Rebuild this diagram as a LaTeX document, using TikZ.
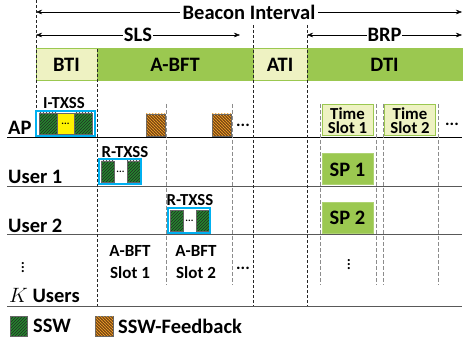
\documentclass[tikz,border=0pt]{standalone}
\usepackage{fontspec}
\setmainfont{Carlito}
\usetikzlibrary{arrows.meta,patterns}
\definecolor{paleyellow}{RGB}{238,242,194}
\definecolor{leafgreen}{RGB}{155,200,80}
\definecolor{skyblue}{RGB}{0,176,240}
\definecolor{sswgreen}{RGB}{35,135,45}
\definecolor{fbkorange}{RGB}{240,160,40}
\definecolor{fbkbrown}{RGB}{120,70,20}
\definecolor{brightyellow}{RGB}{255,242,0}
\tikzset{
  bigtxt/.style={font=\fontsize{20.5}{22}\selectfont\bfseries},
  midtxt/.style={font=\fontsize{17}{22}\selectfont\bfseries},
  smalltxt/.style={font=\fontsize{16.8}{14.5}\selectfont\bfseries},
  dotstxt/.style={font=\fontsize{18}{18}\selectfont\boldmath},
  period/.style={draw=leafgreen, line width=1pt, minimum height=32pt, inner sep=0pt, bigtxt},
  bdash/.style={black!85, thin, dash pattern=on 3pt off 2pt},
  gdash/.style={black!45, thin, dash pattern=on 4pt off 2pt},
  rowline/.style={black!65, line width=0.9pt},
  sswbox/.style={draw=black!60, thin, preaction={fill=sswgreen}, pattern=north east lines, pattern color=black!85, inner sep=0pt},
  fbkbox/.style={draw=black!60, thin, preaction={fill=fbkbrown}, pattern=north west lines, pattern color=fbkorange,
    postaction={pattern=crosshatch dots, pattern color=fbkorange}, inner sep=0pt},
  txframe/.style={draw=skyblue, line width=1.1pt, inner sep=0pt},
  slotbox/.style={draw=leafgreen, line width=1pt, inner sep=0pt, minimum width=51pt, minimum height=31pt, align=center},
  intervalarrow/.style={{Stealth[length=6pt,width=4.5pt]}-{Stealth[length=6pt,width=4.5pt]}, thin}
}
\begin{document}
\begin{tikzpicture}[x=1pt,y=-1pt]
  \useasboundingbox (0,0) rectangle (464,345);
  % Periods of the beacon interval
  \node[period, fill=paleyellow, minimum width=61pt] (bti) at (66.5,65) {BTI};
  \node[period, fill=leafgreen, minimum width=156pt] (abft) at (175,65) {A-BFT};
  \node[period, fill=paleyellow, minimum width=54pt] (ati) at (280,65) {ATI};
  \node[period, fill=leafgreen, minimum width=155pt] (dti) at (384.5,65) {DTI};
  % Interval arrows
  \coordinate (bi-l) at (36,12);
  \coordinate (bi-r) at (462,12);
  \draw[intervalarrow] (bi-l) -- (bi-r) node[midway, fill=white, bigtxt, inner sep=3pt] (bi-txt) {Beacon Interval};
  \coordinate (sls-l) at (36,35);
  \coordinate (sls-r) at (240,35);
  \draw[intervalarrow] (sls-l) -- (sls-r) node[midway, fill=white, bigtxt, inner sep=1pt] (sls-txt) {SLS};
  \coordinate (brp-l) at (307,35);
  \coordinate (brp-r) at (462,35);
  \draw[intervalarrow] (brp-l) -- (brp-r) node[midway, fill=white, bigtxt, inner sep=1pt] (brp-txt) {BRP};
  % Row lines
  \draw[black, line width=0.9pt] (7,137) -- (462,137);
  \foreach \ry in {186,234,306}
    \draw[rowline] (7,\ry) -- (462,\ry);
  % Boundaries
  \draw[bdash] (36,0) -- (36,137);
  \draw[bdash] (97,49) -- (97,306);
  \draw[bdash] (253,25) -- (253,306);
  \draw[bdash] (307,25) -- (307,306);
  \foreach \gx in {166,232,320,376,383,438}
    \draw[gdash] (\gx,104) -- (\gx,285);
  % Row labels
  \node[bigtxt, anchor=base west, inner sep=0pt] (ap) at (8,135) {AP};
  \node[bigtxt, anchor=base west, inner sep=0pt] (user1) at (8,183) {User 1};
  \node[bigtxt, anchor=base west, inner sep=0pt] (user2) at (8,232) {User 2};
  \node[dotstxt, inner sep=0pt] (more-users) at (23,265) {$\vdots$};
  \node[bigtxt, anchor=base west, inner sep=0pt] (kusers) at (9,302) {$K$ Users};
  % AP: I-TXSS and feedback
  \node[smalltxt] (itx-txt) at (64,103) {I-TXSS};
  \node[draw=black!60, thin, fill=brightyellow, minimum width=17.5pt, minimum height=21.5pt, inner sep=0pt] (itx-m) at (65.5,123.5) {\textbf{...}};
  \node[sswbox, minimum width=17.5pt, minimum height=21.5pt] (itx-a) at (48,123.5) {};
  \node[sswbox, minimum width=17.5pt, minimum height=21.5pt] (itx-b) at (83,123.5) {};
  \node[txframe, minimum width=59pt, minimum height=25pt] (itx) at (65.5,123.5) {};
  \node[fbkbox, minimum width=19pt, minimum height=22pt] (fbk1) at (155.5,125) {};
  \node[fbkbox, minimum width=19pt, minimum height=22pt] (fbk2) at (221.5,125) {};
  \node[midtxt] (fbk-dots) at (243,125) {...};
  % User 1: R-TXSS
  \node[smalltxt] (rtx1-txt) at (125,152) {R-TXSS};
  \node[sswbox, minimum width=13pt, minimum height=21pt] (rtx1-a) at (107.5,171.5) {};
  \node[font=\bfseries, inner sep=0pt] (rtx1-m) at (120.5,172) {...};
  \node[sswbox, minimum width=13pt, minimum height=21pt] (rtx1-b) at (133.5,171.5) {};
  \node[txframe, minimum width=42pt, minimum height=25pt] (rtx1) at (120,171.5) {};
  % User 2: R-TXSS
  \node[smalltxt] (rtx2-txt) at (190,200) {R-TXSS};
  \node[sswbox, minimum width=13pt, minimum height=21pt] (rtx2-a) at (176.5,220.5) {};
  \node[font=\bfseries, inner sep=0pt] (rtx2-m) at (189.5,221) {...};
  \node[sswbox, minimum width=13pt, minimum height=21pt] (rtx2-b) at (202.5,220.5) {};
  \node[txframe, minimum width=42pt, minimum height=25pt] (rtx2) at (189,220.5) {};
  % A-BFT slots
  \node[midtxt, align=center] (slot1) at (130,262) {A-BFT\\Slot 1};
  \node[midtxt, align=center] (slot2) at (196,262) {A-BFT\\Slot 2};
  \node[midtxt] (slot-dots) at (243,268) {...};
  % DTI: time slots and service periods
  \node[slotbox, fill=paleyellow, smalltxt] (ts1) at (347.5,120.5) {Time\\Slot 1};
  \node[slotbox, fill=paleyellow, smalltxt] (ts2) at (410,120.5) {Time\\Slot 2};
  \node[midtxt] (ts-dots) at (452,124) {...};
  \node[slotbox, fill=leafgreen, draw=leafgreen!80!white, bigtxt] (sp1) at (347.5,169.5) {SP 1};
  \node[slotbox, fill=leafgreen, draw=leafgreen!80!white, bigtxt] (sp2) at (347.5,217.5) {SP 2};
  \node[dotstxt, inner sep=0pt] (sp-dots) at (349,262) {$\vdots$};
  % Legend
  \node[sswbox, minimum width=17pt, minimum height=20pt] (key-ssw) at (18.5,326) {};
  \node[bigtxt, anchor=west, inner sep=0pt] (key-ssw-txt) at (33,326) {SSW};
  \node[fbkbox, minimum width=18pt, minimum height=20pt] (key-fbk) at (104,326) {};
  \node[bigtxt, anchor=west, inner sep=0pt] (key-fbk-txt) at (118,326) {SSW-Feedback};
\end{tikzpicture}
\end{document}
